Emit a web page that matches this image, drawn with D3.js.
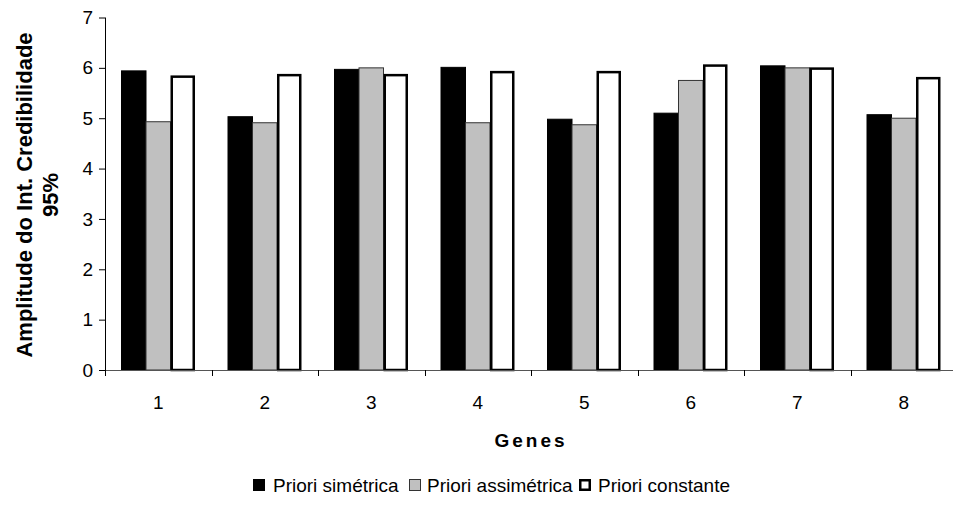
<!DOCTYPE html>
<html>
<head>
<meta charset="utf-8">
<script src="https://cdn.jsdelivr.net/npm/d3@7"></script>
<style>
  html, body { margin: 0; padding: 0; background: #fff; }
  svg { display: block; font-family: "Liberation Sans", Arial, sans-serif; }
</style>
</head>
<body>
<svg id="chart" width="953" height="506"></svg>
<script>
// Genes on the x axis
const genes = ["1", "2", "3", "4", "5", "6", "7", "8"];
// Prior series names (legend order)
const seriesNames = ["Priori simétrica", "Priori assimétrica", "Priori constante"];
// Width of the 95% credibility interval per gene
const prioriSimetrica   = [5.94, 5.03, 5.97, 6.01, 4.98, 5.10, 6.04, 5.07];
const prioriAssimetrica = [4.93, 4.91, 6.00, 4.91, 4.87, 5.75, 6.00, 5.00];
const prioriConstante   = [5.85, 5.88, 5.88, 5.94, 5.94, 6.07, 6.01, 5.82];
// Y axis tick values
const yTicks = [0, 1, 2, 3, 4, 5, 6, 7];

(function () {
  const seriesValues = [prioriSimetrica, prioriAssimetrica, prioriConstante];
  const seriesStyle = [
    { fill: "#000000", stroke: "#000000", sw: 1 },
    { fill: "#c0c0c0", stroke: "#333333", sw: 1 },
    { fill: "#ffffff", stroke: "#000000", sw: 2.5 }
  ];

  const svg = d3.select("#chart");

  const plotLeft = 105, plotTop = 17.5, plotBottom = 370;
  const catWidth = 106.5;
  const tickFont = 19;

  const x0 = d3.scaleBand()
    .domain(genes)
    .range([plotLeft, plotLeft + catWidth * genes.length])
    .paddingInner(0).paddingOuter(0);

  const gap = catWidth * 0.155;
  const x1 = d3.scaleBand()
    .domain(d3.range(seriesNames.length))
    .range([gap, x0.bandwidth() - gap])
    .padding(0);

  const y = d3.scaleLinear().domain([0, 7]).range([plotBottom, plotTop]);

  // Bars
  const rows = genes.map((g, i) => ({ gene: g, vals: seriesValues.map(s => s[i]) }));
  const groups = svg.append("g").selectAll("g")
    .data(rows).join("g")
    .attr("transform", d => `translate(${x0(d.gene)},0)`);

  const inset = k => (seriesStyle[k].sw > 1 ? seriesStyle[k].sw / 2 : 0);
  groups.selectAll("rect")
    .data(d => d.vals.map((v, k) => ({ v, k })))
    .join("rect")
    .attr("x", d => x1(d.k) + inset(d.k))
    .attr("y", d => y(d.v) + inset(d.k))
    .attr("width", d => x1.bandwidth() - 2 * inset(d.k))
    .attr("height", d => y(0) - y(d.v) - inset(d.k))
    .attr("fill", d => seriesStyle[d.k].fill)
    .attr("stroke", d => seriesStyle[d.k].stroke)
    .attr("stroke-width", d => seriesStyle[d.k].sw);

  // Y axis
  const yAxis = d3.axisLeft(y).tickValues(yTicks).tickSize(6).tickPadding(6).tickFormat(d3.format("d"));
  const gy = svg.append("g").attr("transform", `translate(${plotLeft},0)`).call(yAxis);
  gy.select(".domain").attr("d", `M0.5,${plotTop}V${plotBottom}`).attr("stroke", "#000");
  gy.selectAll(".tick line").attr("stroke", "#000");
  gy.selectAll(".tick text").attr("font-size", tickFont).attr("fill", "#000")
    .attr("font-family", "'Liberation Sans', Arial, sans-serif");

  // X axis: ticks on category boundaries
  const boundaries = d3.range(genes.length + 1).map(i => plotLeft + i * catWidth);
  const gx = svg.append("g");
  gx.append("line")
    .attr("x1", plotLeft).attr("x2", plotLeft + catWidth * genes.length)
    .attr("y1", plotBottom + 0.5).attr("y2", plotBottom + 0.5)
    .attr("stroke", "#555").attr("stroke-width", 1);
  gx.selectAll("line.tk").data(boundaries).join("line")
    .attr("class", "tk")
    .attr("x1", d => Math.round(d) + 0.5).attr("x2", d => Math.round(d) + 0.5)
    .attr("y1", plotBottom).attr("y2", plotBottom + 6)
    .attr("stroke", "#000");
  gx.selectAll("text").data(genes).join("text")
    .attr("x", d => x0(d) + x0.bandwidth() / 2)
    .attr("y", 409)
    .attr("text-anchor", "middle")
    .attr("font-size", tickFont)
    .attr("fill", "#000")
    .text(d => d);

  // Axis titles
  svg.append("text")
    .attr("x", 531).attr("y", 447)
    .attr("text-anchor", "middle")
    .attr("font-size", 19).attr("font-weight", "bold")
    .attr("letter-spacing", 3)
    .text("Genes");

  const yTitle = svg.append("text")
    .attr("transform", `translate(0,195) rotate(-90)`)
    .attr("text-anchor", "middle")
    .attr("font-size", 22).attr("font-weight", "bold");
  yTitle.append("tspan").attr("x", 0).attr("y", 32).text("Amplitude do Int. Credibilidade");
  yTitle.append("tspan").attr("x", 0).attr("y", 58).text("95%");

  // Legend
  const legendPos = [
    { x: 253, tx: 273 },
    { x: 409, tx: 427 },
    { x: 579, tx: 598 }
  ];
  const lg = svg.append("g");
  seriesNames.forEach((name, k) => {
    const st = seriesStyle[k];
    const ins = st.sw > 1 ? st.sw / 2 : 0.5;
    lg.append("rect")
      .attr("x", legendPos[k].x + ins).attr("y", 479 + ins)
      .attr("width", 12 - 2 * ins).attr("height", 12 - 2 * ins)
      .attr("fill", st.fill).attr("stroke", st.stroke).attr("stroke-width", st.sw);
    lg.append("text")
      .attr("x", legendPos[k].tx).attr("y", 492)
      .attr("font-size", 19).attr("fill", "#000")
      .text(name);
  });
})();
</script>
</body>
</html>
